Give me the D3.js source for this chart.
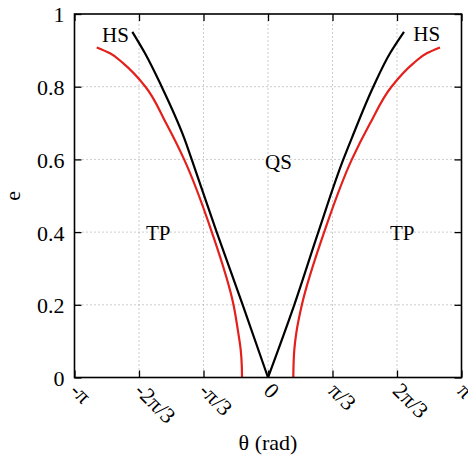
<!DOCTYPE html>
<html lang="en">
<head>
<meta charset="UTF-8">
<title>Stability map e vs theta</title>
<script src="https://d3js.org/d3.v7.min.js"></script>
<style>
  body { margin: 0; background: #fff; }
  svg { display: block; font-family: "Liberation Serif", "Times New Roman", serif; }
  .axis path.domain { display: none; }
  .axis line { stroke: #000; stroke-width: 1.3; }
  .axis text { fill: #000; font-size: 22px; font-family: "Liberation Serif", serif; }
  .grid line { stroke: #9a9a9a; stroke-width: 1; stroke-dasharray: 1,3; }
</style>
</head>
<body>
<svg id="chart" width="468" height="457"></svg>
<script>
// Dimensions
const width = 468, height = 457;
const margin = { top: 14, right: 6.5, bottom: 79.5, left: 74.5 };
const serif = '"Liberation Serif", "Times New Roman", serif';

// Tick values and labels
const xTicks = [-Math.PI, -2*Math.PI/3, -Math.PI/3, 0, Math.PI/3, 2*Math.PI/3, Math.PI];
const xTickLabels = ['-π', '-2π/3', '-π/3', '0', 'π/3', '2π/3', 'π'];
const yTicks = [0, 0.2, 0.4, 0.6, 0.8, 1];
const yTickLabels = ['0', '0.2', '0.4', '0.6', '0.8', '1'];

// Black boundary (QS / TP)
const blackE      = [0, 0.2, 0.4, 0.6, 0.658, 0.8, 0.892, 0.951];
const blackLeftT  = [0, -0.411, -0.833, -1.239, -1.359, -1.726, -1.997, -2.203];
const blackRightT = [0, 0.427, 0.817, 1.223, 1.359, 1.710, 1.981, 2.208];

// Red boundary
const redE      = [0, 0.03, 0.076, 0.122, 0.2, 0.4, 0.6, 0.7, 0.8, 0.864, 0.892, 0.908];
const redLeftT  = [-0.422, -0.425, -0.443, -0.482, -0.560, -0.912, -1.362, -1.656, -1.990, -2.349, -2.565, -2.781];
const redRightT = [0.411, 0.414, 0.427, 0.459, 0.550, 0.912, 1.362, 1.660, 2.005, 2.360, 2.577, 2.793];

// Region labels (text, theta, e)
const regionText = ['HS', 'HS', 'QS', 'TP', 'TP'];
const regionT    = [-2.695, 2.359, -0.049, -1.981, 1.981];
const regionE    = [0.923, 0.927, 0.573, 0.377, 0.377];

// Scales
const x = d3.scaleLinear()
  .domain([-Math.PI, Math.PI])
  .range([margin.left, width - margin.right]);
const y = d3.scaleLinear()
  .domain([0, 1])
  .range([height - margin.bottom, margin.top]);

const svg = d3.select('#chart');

// Grid
svg.append('g').attr('class', 'grid')
  .selectAll('line').data(xTicks.slice(1, -1)).join('line')
    .attr('x1', d => x(d)).attr('x2', d => x(d))
    .attr('y1', y(0)).attr('y2', y(1));
svg.append('g').attr('class', 'grid')
  .selectAll('line').data(yTicks.slice(1, -1)).join('line')
    .attr('y1', d => y(d)).attr('y2', d => y(d))
    .attr('x1', x(-Math.PI)).attr('x2', x(Math.PI));

// Axes, ticks pointing inward on all four sides
const tick = 7;
const xAxis = svg.append('g').attr('class', 'axis')
  .attr('transform', `translate(0,${y(0)})`)
  .call(d3.axisBottom(x).tickValues(xTicks).tickSize(-tick).tickFormat((d, i) => xTickLabels[i]))
  .attr('font-family', serif).attr('font-size', 22);
xAxis.selectAll('text')
  .attr('x', 0).attr('y', 0).attr('dy', '0.7em')
  .attr('text-anchor', 'start')
  .attr('transform', 'translate(5,3.5) rotate(45)');

svg.append('g').attr('class', 'axis')
  .attr('transform', `translate(0,${y(1)})`)
  .call(d3.axisTop(x).tickValues(xTicks).tickSize(-tick).tickFormat(''));

const yAxis = svg.append('g').attr('class', 'axis')
  .attr('transform', `translate(${x(-Math.PI)},0)`)
  .call(d3.axisLeft(y).tickValues(yTicks).tickSize(-tick).tickFormat((d, i) => yTickLabels[i]))
  .attr('font-family', serif).attr('font-size', 22);
yAxis.selectAll('text').attr('x', -10).attr('dy', '0.36em');

svg.append('g').attr('class', 'axis')
  .attr('transform', `translate(${x(Math.PI)},0)`)
  .call(d3.axisRight(y).tickValues(yTicks).tickSize(-tick).tickFormat(''));

// Curves
const line = d3.line()
  .x(d => x(d[0]))
  .y(d => y(d[1]))
  .curve(d3.curveMonotoneY);

const curves = [
  { t: redLeftT,    e: redE,   color: '#e3201b' },
  { t: redRightT,   e: redE,   color: '#e3201b' },
  { t: blackLeftT,  e: blackE, color: '#000' },
  { t: blackRightT, e: blackE, color: '#000' }
];
svg.append('g').selectAll('path').data(curves).join('path')
  .attr('fill', 'none')
  .attr('stroke', d => d.color)
  .attr('stroke-width', 2.2)
  .attr('d', d => line(d.t.map((v, i) => [v, d.e[i]])));

// Border
svg.append('rect')
  .attr('x', x(-Math.PI)).attr('y', y(1))
  .attr('width', x(Math.PI) - x(-Math.PI))
  .attr('height', y(0) - y(1))
  .attr('fill', 'none').attr('stroke', '#000').attr('stroke-width', 1.6);

// Region labels
svg.append('g').selectAll('text').data(regionText).join('text')
  .attr('x', (d, i) => x(regionT[i]))
  .attr('y', (d, i) => y(regionE[i]))
  .attr('font-family', serif)
  .attr('font-size', 21)
  .text(d => d);

// Axis titles
svg.append('text')
  .attr('x', x(0)).attr('y', 450)
  .attr('text-anchor', 'middle').attr('font-size', 22)
  .attr('font-family', serif)
  .text('θ (rad)');
svg.append('text')
  .attr('transform', `translate(20,${y(0.5)}) rotate(-90)`)
  .attr('text-anchor', 'middle').attr('font-size', 22)
  .attr('font-family', serif)
  .text('e');
</script>
</body>
</html>
